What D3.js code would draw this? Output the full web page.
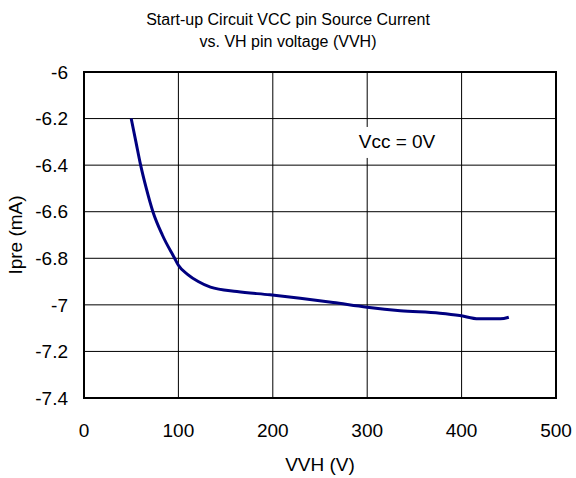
<!DOCTYPE html>
<html>
<head>
<meta charset="utf-8">
<script src="https://cdn.jsdelivr.net/npm/d3@7"></script>
<style>
  body { margin: 0; background: #fff; }
  svg text { font-family: "Liberation Sans", Arial, sans-serif; fill: #000; }
</style>
</head>
<body>
<div id="chart"></div>
<script>
// VH pin voltage (V)
var vvh = [50, 55, 60, 66, 73, 83, 96, 100, 110, 121, 134, 162, 197, 229, 264, 300, 335, 377, 398, 418, 441, 450];
// Ipre (mA)
var ipre = [-6.2, -6.3, -6.4, -6.5, -6.6, -6.7, -6.8, -6.83, -6.87, -6.9, -6.924, -6.943, -6.957, -6.972, -6.99, -7.01, -7.025, -7.036, -7.046, -7.06, -7.06, -7.053];
var xTicks = [0, 100, 200, 300, 400, 500];
var yTicks = [-6, -6.2, -6.4, -6.6, -6.8, -7, -7.2, -7.4];
var titleLines = ["Start-up Circuit VCC pin Source Current", "vs. VH pin voltage (VVH)"];
var noteText = "Vcc = 0V";

var W = 576, H = 478;
var margin = { top: 72, right: 20, bottom: 80, left: 84 },
    width = W - margin.left - margin.right,
    height = H - margin.top - margin.bottom;

var svg = d3.select("#chart").append("svg").attr("width", W).attr("height", H);

var x = d3.scaleLinear().domain([0, 500]).range([margin.left, margin.left + width]);
var y = d3.scaleLinear().domain([-7.4, -6]).range([margin.top + height, margin.top]);

// title
svg.selectAll(".title").data(titleLines).enter().append("text")
    .attr("x", W / 2).attr("y", function(d, i) { return 25 + i * 22; })
    .attr("text-anchor", "middle").style("font-size", "16px")
    .text(function(d) { return d; });

// grid
svg.append("g").selectAll("line").data(yTicks).enter().append("line")
    .attr("x1", x(0)).attr("x2", x(500))
    .attr("y1", function(d) { return y(d); }).attr("y2", function(d) { return y(d); })
    .attr("stroke", "#000").attr("stroke-width", 1);
svg.append("g").selectAll("line").data(xTicks).enter().append("line")
    .attr("y1", y(-6)).attr("y2", y(-7.4))
    .attr("x1", function(d) { return x(d); }).attr("x2", function(d) { return x(d); })
    .attr("stroke", "#000").attr("stroke-width", 1);

// note with white box
svg.append("rect").attr("x", x(285)).attr("y", y(-6.236)).attr("width", 96).attr("height", 31).attr("fill", "#fff");
svg.append("text").attr("x", x(291)).attr("y", y(-6.325)).style("font-size", "19px").text(noteText);

// frame
svg.append("rect").attr("x", x(0)).attr("y", y(-6)).attr("width", width).attr("height", height)
    .attr("fill", "none").attr("stroke", "#000").attr("stroke-width", 2);

// axes labels
svg.append("g").selectAll("text").data(yTicks).enter().append("text")
    .attr("x", 68).attr("y", function(d) { return y(d); }).attr("dy", "0.35em")
    .attr("text-anchor", "end").style("font-size", "19px")
    .text(function(d) { return String(d); });
svg.append("g").selectAll("text").data(xTicks).enter().append("text")
    .attr("x", function(d) { return x(d); }).attr("y", 437)
    .attr("text-anchor", "middle").style("font-size", "19px")
    .text(function(d) { return d; });

svg.append("text").attr("x", x(250)).attr("y", 471).attr("text-anchor", "middle")
    .style("font-size", "19px").text("VVH (V)");
svg.append("text").attr("transform", "translate(22," + y(-6.7) + ") rotate(-90)")
    .attr("text-anchor", "middle").style("font-size", "19px").text("Ipre (mA)");

// curve
var pts = vvh.map(function(v, i) { return [v, ipre[i]]; });
var line = d3.line().x(function(d) { return x(d[0]); }).y(function(d) { return y(d[1]); })
    .curve(d3.curveMonotoneX);
svg.append("path").datum(pts).attr("d", line)
    .attr("fill", "none").attr("stroke", "#000080").attr("stroke-width", 3)
    .attr("stroke-linejoin", "round");
</script>
</body>
</html>
